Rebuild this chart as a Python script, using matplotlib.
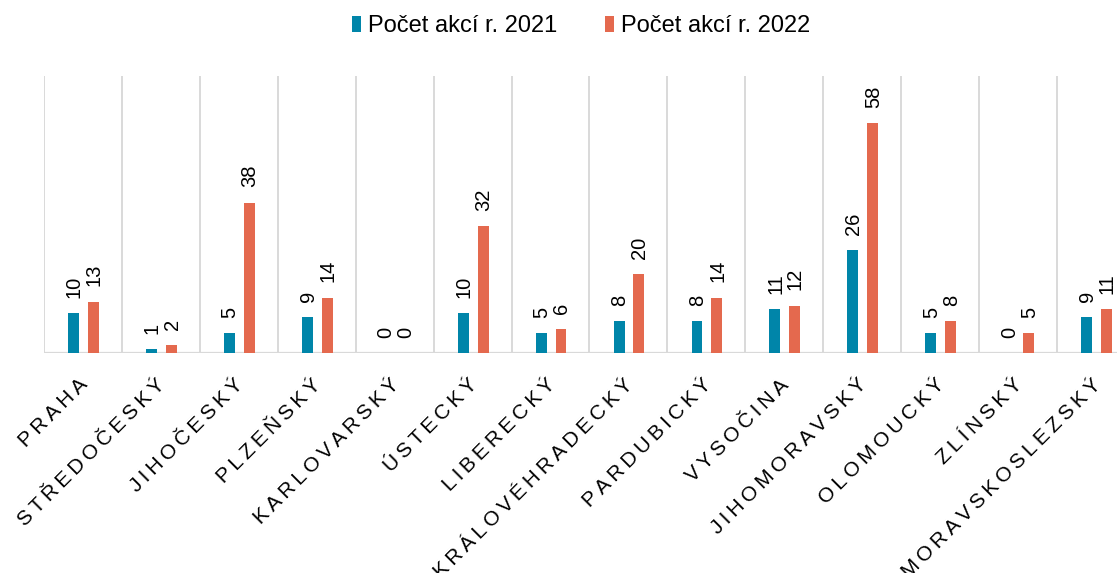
import matplotlib
matplotlib.use("Agg")
import matplotlib.pyplot as plt
import matplotlib.transforms as mtrans
import numpy as np

plt.rcParams["font.family"] = ["Liberation Sans", "DejaVu Sans"]

# data
regions = ["PRAHA", "STŘEDOČESKÝ", "JIHOČESKÝ", "PLZEŇSKÝ", "KARLOVARSKÝ", "ÚSTECKÝ",
           "LIBERECKÝ", "KRÁLOVÉHRADECKÝ", "PARDUBICKÝ", "VYSOČINA", "JIHOMORAVSKÝ",
           "OLOMOUCKÝ", "ZLÍNSKÝ", "MORAVSKOSLEZSKÝ"]
akce_2021 = [10, 1, 5, 9, 0, 10, 5, 8, 8, 11, 26, 5, 0, 9]
akce_2022 = [13, 2, 38, 14, 0, 32, 6, 20, 14, 12, 58, 8, 5, 11]
series_names = ["Počet akcí r. 2021", "Počet akcí r. 2022"]

BLUE = "#0085a9"
ORANGE = "#e4694e"
GRID = "#d9d9d9"

W, H = 1117, 573
fig = plt.figure(figsize=(W / 100, H / 100), dpi=100)
ax = fig.add_axes([44 / W, 220 / H, (W - 44) / W, 277 / H])

x = np.arange(len(regions))
bw = 0.14
b1 = ax.bar(x - 0.12, akce_2021, bw, color=BLUE, label=series_names[0], zorder=3)
b2 = ax.bar(x + 0.135, akce_2022, bw, color=ORANGE, label=series_names[1], zorder=3)

# value labels
for bars, vals in ((b1, akce_2021), (b2, akce_2022)):
    for r, v in zip(bars, vals):
        ax.annotate(str(v), (r.get_x() + r.get_width() / 2, v), xytext=(0.5, 11),
                    textcoords="offset points", rotation=90, ha="center", va="bottom",
                    fontsize=14.5, color="black")

# category separators and baseline
ax.vlines(x - 0.5, 0, 70, color=GRID, lw=1.4, zorder=1)
ax.axhline(0, color=GRID, lw=1.6, zorder=2)

ax.set_ylim(0, 70)
ax.set_xlim(-0.5, 13.27)
for s in ax.spines.values():
    s.set_visible(False)
ax.set_yticks([])

# letter-spaced category names (thin space between letters)
ax.set_xticks(x)
ax.set_xticklabels(["\u2009".join(r) for r in regions], rotation=45, ha="right",
                   rotation_mode="anchor", fontsize=15)
ax.tick_params(axis="x", length=0, pad=16)
shift = mtrans.ScaledTranslation(-5 / 100, 0, fig.dpi_scale_trans)
for lab in ax.get_xticklabels():
    lab.set_transform(lab.get_transform() + shift)

fig.legend(handles=[b1, b2], loc="center", bbox_to_anchor=(581 / W, 1 - 26 / H), ncol=2,
           frameon=False, fontsize=17, handlelength=0.4, handleheight=0.65,
           handletextpad=0.3, columnspacing=2.0)

fig.savefig("out.png", dpi=100)
